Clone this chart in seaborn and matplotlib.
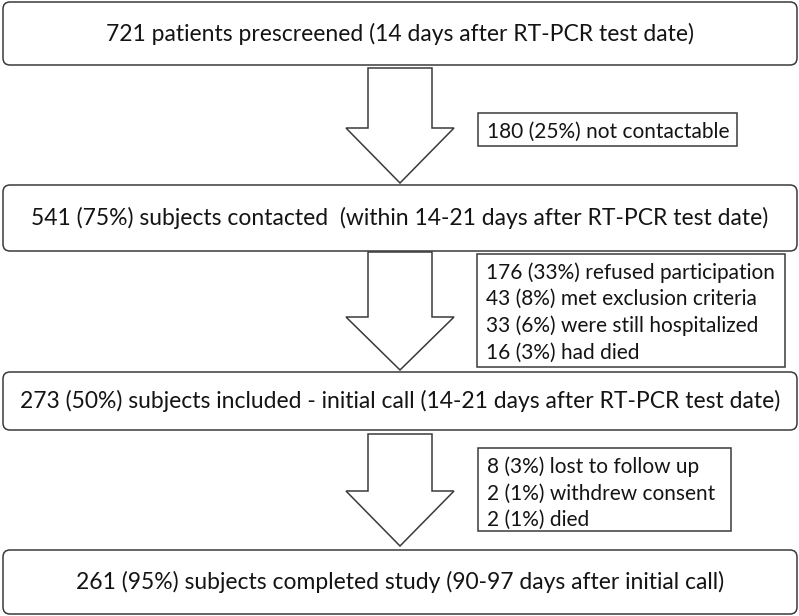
import matplotlib
matplotlib.use("Agg")
import matplotlib.pyplot as plt
import seaborn as sns
from matplotlib.patches import FancyBboxPatch, Polygon, Rectangle

# Flowchart content
main_labels = [
    "721 patients prescreened (14 days after RT-PCR test date)",
    "541 (75%) subjects contacted  (within 14-21 days after RT-PCR test date)",
    "273 (50%) subjects included - initial call (14-21 days after RT-PCR test date)",
    "261 (95%) subjects completed study (90-97 days after initial call)",
]
excluded_1 = ["180 (25%) not contactable"]
excluded_2 = [
    "176 (33%) refused participation",
    "43 (8%) met exclusion criteria",
    "33 (6%) were still hospitalized",
    "16 (3%) had died",
]
excluded_3 = [
    "8 (3%) lost to follow up",
    "2 (1%) withdrew consent",
    "2 (1%) died",
]
excluded = [excluded_1, excluded_2, excluded_3]

# Layout (pixel coordinates, y downwards)
main_boxes = [(2, 65), (185, 251), (372, 430), (550, 614)]
side_boxes = [(478, 737, 113, 146), (477, 785, 254, 367), (478, 731, 448, 531)]
side_shift = [2, 2, 4]
arrows = [(68, 128, 183), (252, 317, 370), (434, 491, 546)]
line_gap = 26.7

sns.set_theme(style="white")
plt.rcParams["font.family"] = ["Lato", "DejaVu Sans"]

edge = "#3a3a3a"
txt = "#141414"

fig = plt.figure(figsize=(7.99, 6.16), dpi=100)
ax = fig.add_axes([0, 0, 1, 1])
ax.set_xlim(0, 799)
ax.set_ylim(616, 0)
ax.axis("off")

for label, (y0, y1) in zip(main_labels, main_boxes):
    ax.add_patch(FancyBboxPatch((3, y0), 794, y1 - y0,
                                boxstyle="round,pad=0,rounding_size=7",
                                fc="white", ec=edge, lw=1.1))
    ax.text(400, (y0 + y1) / 2, label, ha="center", va="center",
            fontsize=16.5, color=txt)

# block arrows between the main boxes
for (top, neck, tip) in arrows:
    pts = [(368, top), (432, top), (432, neck), (454, neck), (400, tip),
           (346, neck), (368, neck)]
    ax.add_patch(Polygon(pts, closed=True, fc="white", ec=edge, lw=1.1))

# exclusion boxes
for lines, (x0, x1, y0, y1), dy in zip(excluded, side_boxes, side_shift):
    ax.add_patch(Rectangle((x0, y0), x1 - x0, y1 - y0, fc="white", ec=edge, lw=1.1))
    start = (y0 + y1) / 2 - line_gap * (len(lines) - 1) / 2 + dy
    for i, line in enumerate(lines):
        ax.text(x0 + 9, start + i * line_gap, line, ha="left", va="center",
                fontsize=15, color=txt)

fig.savefig("out.png", dpi=100)
